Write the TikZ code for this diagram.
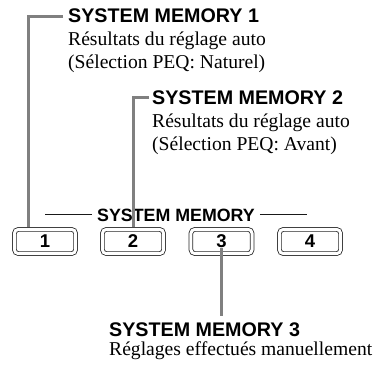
\documentclass[tikz,border=0pt]{standalone}
\usepackage{fontspec}
\setmainfont{Liberation Serif}
\setsansfont{Liberation Sans}
\usetikzlibrary{positioning, calc}
\tikzset{
    mem_button/.style={
        rectangle, rounded corners=4pt, draw=black!85, line width=0.8pt,
        double=white, double distance=3pt, outer sep=2.3pt,
        minimum width=61.2pt, minimum height=24.2pt, inner sep=0pt,
        font=\sffamily\fontsize{18.5}{18}\selectfont\bfseries
    },
    mem_head/.style={
        anchor=base west, inner sep=0pt,
        font=\sffamily\fontsize{19.7}{20}\selectfont\bfseries
    },
    mem_text/.style={
        anchor=base west, inner sep=0pt,
        font=\fontsize{19.6}{22}\selectfont
    },
    mem_label/.style={
        anchor=base, inner sep=0pt,
        font=\sffamily\fontsize{17.8}{18}\selectfont\bfseries
    },
    leader_line/.style={draw=black!50, line width=3pt},
    rule_line/.style={draw=black!90, line width=0.8pt}
}

\begin{document}
\begin{tikzpicture}[x=1pt, y=-1pt]
    \useasboundingbox (0,0) rectangle (380,364);

    % Buttons
    \node[mem_button] (btn1) at (45, 241.5) {1};
    \node[mem_button] (btn2) at (133, 241.5) {2};
    \node[mem_button] (btn3) at (221.5, 241.5) {3};
    \node[mem_button] (btn4) at (310, 241.5) {4};

    % Group label
    \node[mem_label] (group) at (176, 221) {SYSTEM MEMORY};
    \draw[rule_line] ([xshift=-5pt]group.west) -- ++(-47,0);
    \draw[rule_line] ([xshift=5pt]group.east) -- ++(47,0);

    % Memory 1
    \node[mem_head] (head1) at (68, 23) {SYSTEM MEMORY 1};
    \node[mem_text] (text1a) at (68, 45) {Résultats du réglage auto};
    \node[mem_text] (text1b) at (68, 68) {(Sélection PEQ: Naturel)};

    % Memory 2
    \node[mem_head] (head2) at (152, 104) {SYSTEM MEMORY 2};
    \node[mem_text] (text2a) at (152, 127) {Résultats du réglage auto};
    \node[mem_text] (text2b) at (152, 150) {(Sélection PEQ: Avant)};

    % Memory 3
    \node[mem_head] (head3) at (109, 336) {SYSTEM MEMORY 3};
    \node[mem_text] (text3a) at (109, 355) {Réglages effectués manuellement};

    % Leaders
    \draw[leader_line] ([xshift=-5pt]head1.west) -| ($(btn1.north west)+(16,0)$);
    \draw[leader_line] ([xshift=-3pt]head2.west) -| (btn2.north);
    \draw[leader_line, shorten >=6pt] (btn3.base) -- (btn3.base |- head3.north);
\end{tikzpicture}
\end{document}
